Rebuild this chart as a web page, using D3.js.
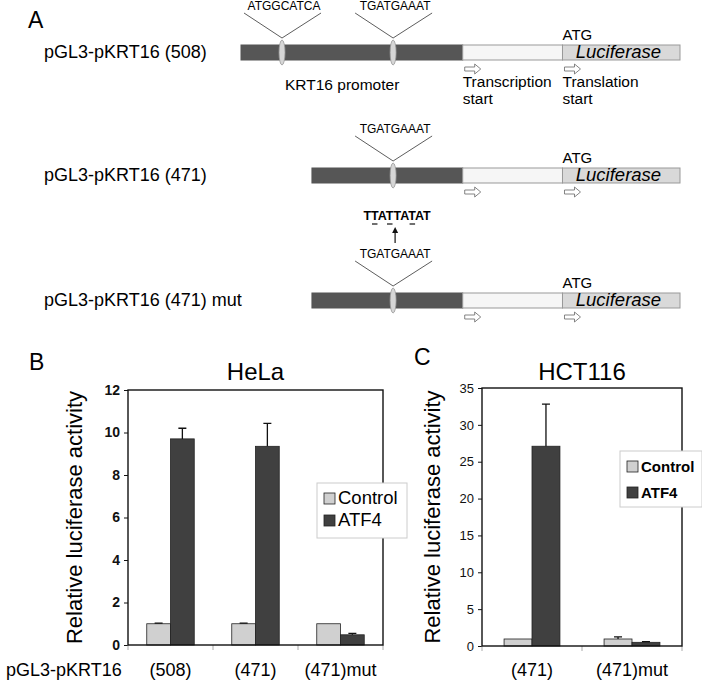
<!DOCTYPE html>
<html>
<head>
<meta charset="utf-8">
<script src="https://cdn.jsdelivr.net/npm/d3@7"></script>
<style>
  body { margin: 0; background: #fff; }
  svg { display: block; font-family: Arial, "Liberation Sans", sans-serif; }
</style>
</head>
<body>
<svg id="fig" width="702" height="688"></svg>
<script>
// ---- data ----
var constructNames = ["pGL3-pKRT16 (508)", "pGL3-pKRT16 (471)", "pGL3-pKRT16 (471) mut"];
var constructSites = [["ATGGCATCA", "TGATGAAAT"], ["TGATGAAAT"], ["TGATGAAAT"]];
var mutantSeq = "TTATTATAT";
var mutantUnderlined = [1, 3, 6];

var series = ["Control", "ATF4"];

var helaGroups = ["(508)", "(471)", "(471)mut"];
var helaControl = [1.0, 1.0, 1.0];
var helaControlErr = [0.03, 0.03, 0];
var helaAtf4 = [9.7, 9.35, 0.48];
var helaAtf4Err = [0.5, 1.08, 0.07];
var helaTicks = [0, 2, 4, 6, 8, 10, 12];

var hctGroups = ["(471)", "(471)mut"];
var hctControl = [0.95, 0.95];
var hctControlErr = [0, 0.3];
var hctAtf4 = [27.1, 0.5];
var hctAtf4Err = [5.7, 0.1];
var hctTicks = [0, 5, 10, 15, 20, 25, 30, 35];

var colors = { "Control": "#d0d0d0", "ATF4": "#404040" };

var svg = d3.select("#fig");

// ---- panel A: construct diagram ----
svg.append("text").attr("x", 28).attr("y", 28).attr("font-size", 23).text("A");

// schematic units: 0..100 promoter, 100..145 transcribed, 145..198 luciferase
var dx = d3.scaleLinear().domain([0, 198]).range([241, 680]);
var rowTop = [45, 168, 293];
var rowStart = [0, 32, 32];
var siteX = [[18.5, 68.6], [68.6], [68.6]];
var barH = 15;

constructNames.forEach(function(name, i) {
    var g = svg.append("g");
    var top = rowTop[i];

    g.append("text").attr("x", 44).attr("y", top + 13).attr("font-size", 18).text(name);

    g.append("rect").attr("x", dx(rowStart[i])).attr("y", top)
        .attr("width", dx(100) - dx(rowStart[i])).attr("height", barH)
        .attr("fill", "#565656").attr("stroke", "#555");
    g.append("rect").attr("x", dx(100)).attr("y", top)
        .attr("width", dx(145) - dx(100)).attr("height", barH)
        .attr("fill", "#f6f6f6").attr("stroke", "#999");
    g.append("rect").attr("x", dx(145)).attr("y", top)
        .attr("width", dx(198) - dx(145)).attr("height", barH)
        .attr("fill", "#d9d9d9").attr("stroke", "#999");

    g.append("text").attr("x", dx(145)).attr("y", top - 5).attr("font-size", 15).text("ATG");
    g.append("text").attr("x", dx(151)).attr("y", top + 13).attr("font-size", 18.5)
        .attr("font-style", "italic").text("Luciferase");

    constructSites[i].forEach(function(site, j) {
        var cx = dx(siteX[i][j]);
        g.append("polyline")
            .attr("points", [[cx - 38, top - 32], [cx, top - 7], [cx + 39, top - 32]].join(" "))
            .attr("fill", "none").attr("stroke", "#333").attr("stroke-width", 0.8);
        g.append("text").attr("x", cx + 2).attr("y", top - 35).attr("font-size", 12)
            .attr("text-anchor", "middle").text(site);
        g.append("ellipse").attr("cx", cx).attr("cy", top + barH / 2)
            .attr("rx", 3).attr("ry", 12.5)
            .attr("fill", "#d6d6d6").attr("stroke", "#999").attr("stroke-width", 0.8);
    });

    // open arrows for transcription / translation start
    [100, 145].forEach(function(p) {
        var x0 = dx(p) + 2, y0 = top + barH + 9;
        g.append("path")
            .attr("d", "M" + x0 + "," + (y0 - 2) + "h10v-3l6,5l-6,5v-3h-10z")
            .attr("fill", "#fff").attr("stroke", "#666").attr("stroke-width", 0.8);
    });
});

svg.append("text").attr("x", 285).attr("y", 90).attr("font-size", 15.5).text("KRT16 promoter");
svg.append("text").attr("x", dx(100)).attr("y", 87).attr("font-size", 15.5).text("Transcription");
svg.append("text").attr("x", dx(100)).attr("y", 104).attr("font-size", 15.5).text("start");
svg.append("text").attr("x", dx(145)).attr("y", 87).attr("font-size", 15.5).text("Translation");
svg.append("text").attr("x", dx(145)).attr("y", 104).attr("font-size", 15.5).text("start");

// mutated site
var mx = dx(68.6) + 4;
var mut = svg.append("text").attr("x", mx).attr("y", 220).attr("font-size", 12.5)
    .attr("font-weight", "bold").attr("text-anchor", "middle").text(mutantSeq);
var mutBox = mut.node().getBBox();
var charW = mutBox.width / mutantSeq.length;
mutantUnderlined.forEach(function(k) {
    svg.append("line")
        .attr("x1", mutBox.x + k * charW + 1).attr("x2", mutBox.x + (k + 1) * charW - 1)
        .attr("y1", 224).attr("y2", 224).attr("stroke", "#111").attr("stroke-width", 1.2);
});
svg.append("line").attr("x1", mx - 2).attr("x2", mx - 2).attr("y1", 243).attr("y2", 230)
    .attr("stroke", "#111").attr("stroke-width", 1.2);
svg.append("path").attr("d", "M" + (mx - 5) + ",233L" + (mx - 2) + ",227L" + (mx + 1) + ",233z")
    .attr("fill", "#111");

// ---- bar charts ----
function drawChart(o) {
    var g = svg.append("g");
    var x = d3.scaleBand().domain(o.groups).range([o.left, o.right]);
    var xs = d3.scaleBand().domain(series).range([0, x.bandwidth()]).paddingOuter(0.79);
    var y = d3.scaleLinear().domain([0, o.ticks[o.ticks.length - 1]]).range([o.bottom, o.top]);

    g.append("text").attr("x", o.letterX).attr("y", o.letterY).attr("font-size", 23).text(o.letter);
    g.append("text").attr("x", (o.left + o.right) / 2).attr("y", 380).attr("font-size", 24)
        .attr("text-anchor", "middle").text(o.title);

    var yAxis = d3.axisLeft(y).tickValues(o.ticks).tickSize(4).tickPadding(4);
    var ax = g.append("g").attr("transform", "translate(" + o.left + ",0)").call(yAxis);
    ax.select(".domain").remove();
    ax.selectAll("line").attr("stroke", "#111");
    ax.selectAll("text").attr("font-family", "Arial, 'Liberation Sans', sans-serif")
        .attr("font-size", o.tickSize).attr("font-weight", o.tickBold ? "bold" : "normal")
        .attr("fill", "#111");

    g.append("text")
        .attr("transform", "translate(" + o.ylabX + "," + (o.top + o.bottom) / 2 + ") rotate(-90)")
        .attr("text-anchor", "middle").attr("font-size", 22).text("Relative luciferase activity");

    // category separators
    var edges = o.groups.map(function(d) { return x(d); }).concat([o.right]);
    g.selectAll(".sep").data(edges).enter().append("line")
        .attr("x1", function(d) { return d; }).attr("x2", function(d) { return d; })
        .attr("y1", o.bottom).attr("y2", o.bottom + 5)
        .attr("stroke", "#aaa");

    var rows = [];
    o.groups.forEach(function(gr, i) {
        rows.push({ group: gr, s: "Control", v: o.control[i], e: o.controlErr[i] });
        rows.push({ group: gr, s: "ATF4", v: o.atf4[i], e: o.atf4Err[i] });
    });

    g.selectAll(".bar").data(rows).enter().append("rect")
        .attr("x", function(d) { return x(d.group) + xs(d.s); })
        .attr("y", function(d) { return y(d.v); })
        .attr("width", xs.bandwidth())
        .attr("height", function(d) { return y(0) - y(d.v); })
        .attr("fill", function(d) { return colors[d.s]; })
        .attr("stroke", "#222").attr("stroke-width", 0.8);

    var errs = rows.filter(function(d) { return d.e > 0; });
    g.selectAll(".err").data(errs).enter().append("path")
        .attr("d", function(d) {
            var cx = x(d.group) + xs(d.s) + xs.bandwidth() / 2;
            return "M" + cx + "," + y(d.v) + "V" + y(d.v + d.e) +
                "M" + (cx - 4) + "," + y(d.v + d.e) + "H" + (cx + 4);
        })
        .attr("fill", "none").attr("stroke", "#111").attr("stroke-width", 1.3);

    g.append("rect").attr("x", o.left).attr("y", o.top)
        .attr("width", o.right - o.left).attr("height", o.bottom - o.top)
        .attr("fill", "none").attr("stroke", "#111").attr("stroke-width", 1.4);

    g.selectAll(".xl").data(o.groups).enter().append("text")
        .attr("x", function(d) { return x(d) + x.bandwidth() / 2; })
        .attr("y", 676).attr("font-size", 18).attr("text-anchor", "middle")
        .text(function(d) { return d; });

    // legend
    var lg = g.append("g");
    lg.append("rect").attr("x", o.legX).attr("y", o.legY).attr("width", o.legW).attr("height", o.legH)
        .attr("fill", "#fff").attr("stroke", "#ccc");
    series.forEach(function(s, i) {
        var yy = o.legY + o.legPad + i * o.legStep;
        lg.append("rect").attr("x", o.legX + 7).attr("y", yy).attr("width", 11).attr("height", 11)
            .attr("fill", colors[s]).attr("stroke", "#222").attr("stroke-width", 0.8);
        lg.append("text").attr("x", o.legX + 21).attr("y", yy + 10.5)
            .attr("font-size", o.legFont).attr("font-weight", o.legBold ? "bold" : "normal").text(s);
    });
}

drawChart({
    groups: helaGroups, control: helaControl, controlErr: helaControlErr,
    atf4: helaAtf4, atf4Err: helaAtf4Err, ticks: helaTicks,
    left: 128, right: 383, top: 390, bottom: 645,
    letter: "B", letterX: 29, letterY: 370, title: "HeLa", ylabX: 82,
    tickSize: 14, tickBold: true,
    legX: 317, legY: 483, legW: 90, legH: 55, legPad: 10, legStep: 22, legFont: 18.5, legBold: false
});

drawChart({
    groups: hctGroups, control: hctControl, controlErr: hctControlErr,
    atf4: hctAtf4, atf4Err: hctAtf4Err, ticks: hctTicks,
    left: 482, right: 682, top: 388, bottom: 646,
    letter: "C", letterX: 414, letterY: 365, title: "HCT116", ylabX: 440,
    tickSize: 13, tickBold: false,
    legX: 620, legY: 451, legW: 82, legH: 56, legPad: 10, legStep: 26, legFont: 15, legBold: true
});

svg.append("text").attr("x", 6).attr("y", 676).attr("font-size", 18).text("pGL3-pKRT16");
</script>
</body>
</html>
